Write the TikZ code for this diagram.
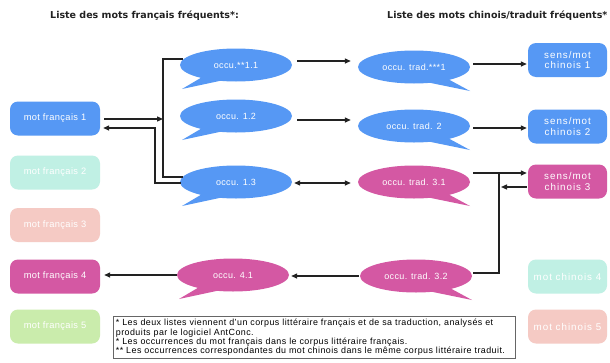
\documentclass[tikz,border=0pt]{standalone}
\usepackage{fontspec}
\setmainfont{Liberation Sans}
\newfontfamily\titlefont{DejaVu Sans}
\newfontfamily\lblfont[LetterSpace=4]{Liberation Sans}
\newfontfamily\notefont[LetterSpace=5]{Liberation Sans}
\newfontfamily\cfont[LetterSpace=10]{Liberation Sans}
\usetikzlibrary{shapes.geometric,arrows.meta,calc}
\definecolor{bblue}{RGB}{86,152,244}
\definecolor{mag}{RGB}{212,88,163}
\definecolor{aqua}{RGB}{192,240,228}
\definecolor{pinkl}{RGB}{245,202,196}
\definecolor{greenl}{RGB}{202,236,172}
\definecolor{ink}{RGB}{34,34,34}
\tikzset{
  box/.style={rectangle, rounded corners=8pt, minimum width=90pt, minimum height=34pt, inner sep=0pt, text=white, font=\lblfont\fontsize{9.3}{10.5}\selectfont, align=center},
  cbox/.style={box, minimum width=79pt, font=\cfont\fontsize{9.8}{10.5}\selectfont},
  bub/.style={ellipse, minimum width=112pt, minimum height=33pt, inner sep=0pt, text=white, font=\lblfont\fontsize{9}{10}\selectfont},
  ln/.style={draw=ink, line width=1.3pt},
  arr/.style={ln, -{Triangle[length=6pt,width=5pt]}},
  darr/.style={ln, {Triangle[length=6pt,width=5pt]}-{Triangle[length=6pt,width=5pt]}},
  ttl/.style={font=\titlefont\bfseries\fontsize{9.5}{11}\selectfont, text=ink, anchor=west, inner sep=0pt}
}
\begin{document}
\begin{tikzpicture}[x=1pt,y=-1pt]
\useasboundingbox (0,0) rectangle (610,362);
\fill[white] (0,0) rectangle (610,362);

% titles
\node[ttl] (tl) at (50,16) {Liste des mots français fréquents*:};
\node[ttl] (tr) at (387,16) {Liste des mots chinois/traduit fréquents*};

% left boxes
\node[box, fill=bblue] (f1) at (55,118.5) {mot français 1};
\node[box, fill=aqua] (f2) at (55,172.5) {mot français 2};
\node[box, fill=pinkl] (f3) at (55,225) {mot français 3};
\node[box, fill=mag] (f4) at (55,276.5) {mot français 4};
\node[box, fill=greenl] (f5) at (55,326.5) {mot français 5};

% right boxes
\node[cbox, fill=bblue] (c1) at (567.5,60) {sens/mot\\chinois 1};
\node[cbox, fill=bblue] (c2) at (567.5,126.5) {sens/mot\\chinois 2};
\node[cbox, fill=mag] (c3) at (567.5,181.5) {sens/mot\\chinois 3};
\node[cbox, fill=aqua] (c4) at (567.5,276.5) {mot chinois 4};
\node[cbox, fill=pinkl] (c5) at (567.5,326.5) {mot chinois 5};

% left bubbles
\foreach \n/\p/\c/\t in {o11/{(236,65)}/bblue/{occu.**1.1}, o12/{(236,116)}/bblue/{occu. 1.2}, o13/{(236,182)}/bblue/{occu. 1.3}, o41/{(233,275)}/mag/{occu. 4.1}}{
  \node[bub, fill=\c] (\n) at \p {\t};
  \fill[\c, shift={(\n.center)}] (-32,11) -- (-54,24) -- (-12,15) -- cycle;
}
% middle bubbles
\foreach \n/\p/\c/\t in {t1/{(414,67)}/bblue/{occu. trad.***1}, t2/{(414,126)}/bblue/{occu. trad. 2}, t31/{(414,182)}/mag/{occu. trad. 3.1}, t32/{(416,276)}/mag/{occu. trad. 3.2}}{
  \node[bub, fill=\c] (\n) at \p {\t};
  \fill[\c, shift={(\n.center)}] (12,15) -- (56,24) -- (32,11) -- cycle;
}

% connectors left
\coordinate (br) at (163,119);
\coordinate (bt) at (163,59);
\coordinate (bb) at (163,177);
\coordinate (rc) at (155,128);
\draw[arr] ($(f1.east)+(4,0.5)$) -- (br);
\draw[ln] ($(o11.west)+(3,-6)$) -- (bt) -- (bb) -- ($(o13.west)+(3,-5)$);
\draw[arr] ($(o13.west)+(1,1)$) -| (rc) -- ($(f1.east)+(3,9.5)$);

% middle connectors
\draw[arr] ($(o11.east)+(5,-4)$) -- ($(t1.west)+(-7,-6)$);
\draw[arr] ($(o12.east)+(5,4)$) -- ($(t2.west)+(-7,-6)$);
\draw[darr] ($(o13.east)+(2,1)$) -- ($(t31.west)+(-7,1)$);

% right connectors
\draw[arr] ($(t1.east)+(3,-3)$) -- ($(c1.west)+(-1,4)$);
\draw[arr] ($(t2.east)+(3,2)$) -- ($(c2.west)+(-1,1.5)$);
\coordinate (jt) at (499,173);
\coordinate (jb) at (499,273);
\coordinate (jm) at (501,187);
\draw[arr] ($(t31.east)+(3,-9)$) -- ($(c3.west)+(-1,-8.5)$);
\draw[arr] ($(c3.west)+(-1,5.5)$) -- (jm);
\draw[ln] (jt) -- (jb) -- ($(t32.east)+(1,-3)$);
\draw[arr] ($(t32.west)+(-1,0)$) -- ($(o41.east)+(2,1)$);
\draw[arr] ($(o41.west)+(0,0)$) -- ($(f4.east)+(4,-1.5)$);

% note
\node[draw=black!60, line width=0.8pt, fill=white, anchor=north west, inner xsep=2.5pt, inner ysep=3pt, text width=397pt, align=left, font=\notefont\fontsize{8.9}{9.2}\selectfont] (note) at (113,316) {* Les deux listes viennent d’un corpus littéraire français et de sa traduction, analysés et\\produits par le logiciel AntConc.\\** Les occurrences du mot français dans le corpus littéraire français.\\*** Les occurrences correspondantes du mot chinois dans le même corpus littéraire traduit.};
\end{tikzpicture}
\end{document}
